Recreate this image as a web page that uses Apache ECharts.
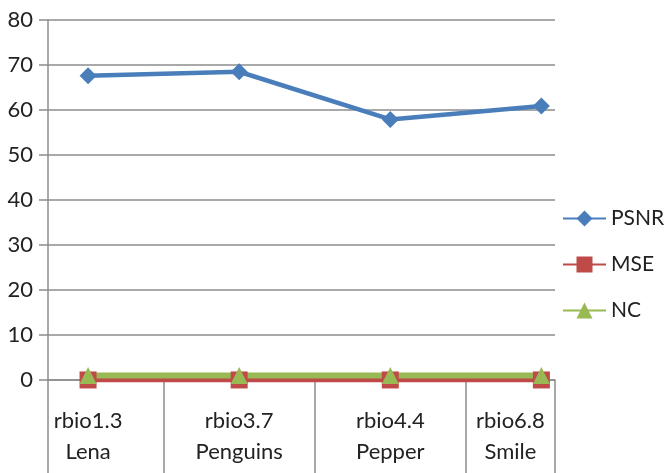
<!DOCTYPE html>
<html>
<head>
<meta charset="utf-8">
<script src="https://cdn.jsdelivr.net/npm/echarts@6/dist/echarts.min.js"></script>
<style>
  html, body { margin: 0; padding: 0; background: #ffffff; }
  #chart { width: 664px; height: 473px; }
</style>
</head>
<body>
<div id="chart"></div>
<script>
// Wavelet / test image pairs along the x axis
const waveletNames = ['rbio1.3', 'rbio3.7', 'rbio4.4', 'rbio6.8'];
const imageNames = ['Lena', 'Penguins', 'Pepper', 'Smile'];

// Quality measures per pair
const psnr = [67.6, 68.5, 57.9, 60.9];
const mse = [0.01, 0.01, 0.01, 0.01];
const nc = [1, 1, 1, 1];

// Y axis scale
const yMin = 0, yMax = 80, yStep = 10;

const n = waveletNames.length;
// Category i sits at x = i; the plot spans a little beyond both ends
const xMin = -0.265, xMax = 3.09;

const pairs = arr => arr.map((v, i) => [i, v]);

// Category separators run half-way between neighbouring points
const separators = [xMin];
for (let i = 0; i < n - 1; i++) separators.push(i + 0.5);
separators.push(xMax);

// Label anchors: centred on each point, the last one centred in its box
const labelAnchors = waveletNames.map((_, i) =>
  i === n - 1 ? (n - 1.5 + xMax) / 2 : i);

const gray = '#8c8c8c';
const font = 'Lato, "Noto Sans", sans-serif';

const chart = echarts.init(document.getElementById('chart'), null, { renderer: 'canvas' });

chart.setOption({
  animation: false,
  backgroundColor: '#ffffff',
  grid: { left: 48, right: 109, top: 20, bottom: 93, containLabel: false },
  xAxis: {
    type: 'value',
    min: xMin,
    max: xMax,
    splitLine: { show: false },
    axisLine: { show: true, onZero: true, lineStyle: { color: gray, width: 1.5 } },
    axisTick: {
      show: true,
      customValues: separators,
      length: 100,
      lineStyle: { color: gray, width: 1.5 }
    },
    axisLabel: {
      show: true,
      customValues: labelAnchors,
      margin: 25,
      fontFamily: font,
      fontSize: 22,
      lineHeight: 31,
      color: '#222',
      align: 'center',
      formatter: v => {
        const i = Math.round(Math.min(v, n - 1));
        return waveletNames[i] + '\n' + imageNames[i];
      }
    }
  },
  yAxis: {
    type: 'value',
    min: yMin,
    max: yMax,
    interval: yStep,
    axisLine: { show: true, onZero: false, lineStyle: { color: gray, width: 1.5 } },
    axisTick: { show: true, length: 9, lineStyle: { color: gray, width: 1.5 } },
    axisLabel: { margin: 15, fontFamily: font, fontSize: 22, color: '#222' },
    splitLine: { show: true, lineStyle: { color: gray, width: 1.5 } }
  },
  legend: {
    orient: 'vertical',
    left: 557,
    top: 203,
    itemWidth: 43,
    itemHeight: 20,
    itemGap: 25,
    textStyle: { fontFamily: font, fontSize: 21, color: '#222', lineHeight: 20 },
    data: ['PSNR', 'MSE', 'NC']
  },
  series: [
    {
      name: 'PSNR',
      type: 'line',
      data: pairs(psnr),
      symbol: 'diamond',
      symbolSize: 17,
      lineStyle: { color: '#4a7ebb', width: 4.5 },
      itemStyle: { color: '#4a7ebb' }
    },
    {
      name: 'MSE',
      type: 'line',
      data: pairs(mse),
      symbol: 'rect',
      symbolSize: 17,
      lineStyle: { color: '#be4b48', width: 5 },
      itemStyle: { color: '#be4b48' }
    },
    {
      name: 'NC',
      type: 'line',
      data: pairs(nc),
      symbol: 'triangle',
      symbolSize: 17,
      lineStyle: { color: '#98b954', width: 6 },
      itemStyle: { color: '#98b954' }
    }
  ]
});
</script>
</body>
</html>
